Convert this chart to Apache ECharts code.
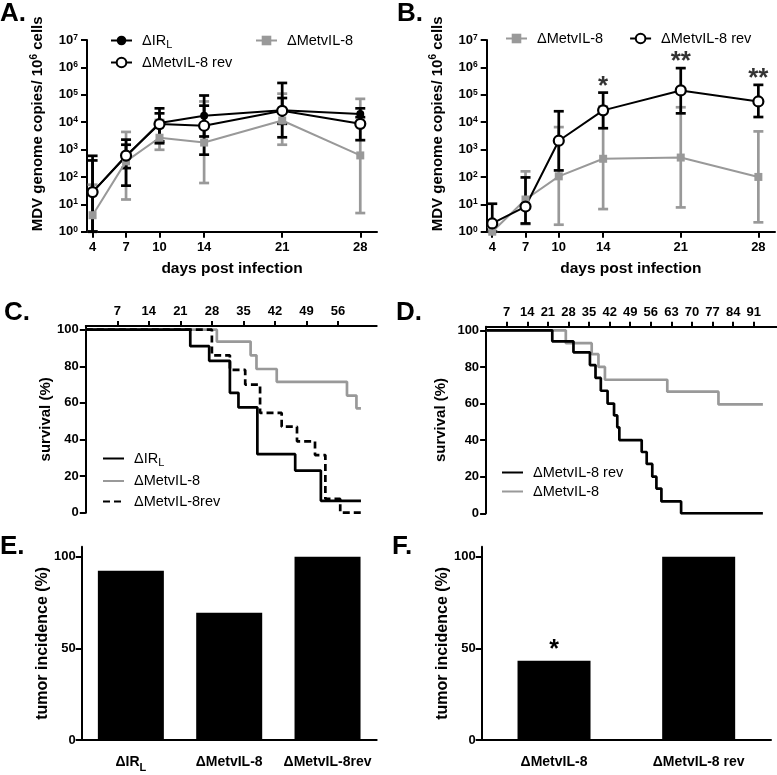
<!DOCTYPE html>
<html><head><meta charset="utf-8">
<script src="https://cdn.jsdelivr.net/npm/echarts@6/dist/echarts.min.js"></script>
<style>html,body{margin:0;padding:0;background:#fff}#c{width:777px;height:775px}</style>
</head><body><div id="c"></div>
<script>
// ---------------- DATA ----------------
const dayTicks = [4, 7, 10, 14, 21, 28];
const logTicks = [1, 10, 100, 1000, 10000, 100000, 1000000, 10000000];
const survTicks = [0, 20, 40, 60, 80, 100];
const cDayTicks = [7, 14, 21, 28, 35, 42, 49, 56];
const dDayTicks = [7, 14, 21, 28, 35, 42, 49, 56, 63, 70, 77, 84, 91];
const pctTicks = [0, 50, 100];

// Panel A (genome copies / 10^6 cells)
const aDays = [4, 7, 10, 14, 21, 28];
const aIrl = [28, 560, 9300, 17000, 27000, 20000];
const aIrlLow = [1, 210, 1700, 3000, 2800, 8000];
const aIrlHigh = [590, 2300, 32000, 94000, 270000, 32000];
const aRev = [28, 600, 8500, 7400, 26000, 8700];
const aRevLow = [1, 48, 2000, 650, 8700, 2200];
const aRevHigh = [400, 1500, 21000, 40000, 76000, 15200];
const aMet = [4, 370, 2700, 1800, 11500, 610];
const aMetLow = [1, 15, 980, 60, 1500, 4.8];
const aMetHigh = [52, 4400, 12000, 57000, 110000, 71000];

// Panel B
const bDays = [4, 7, 10, 14, 21, 28];
const bMet = [1.0, 15, 105, 460, 510, 100];
const bMetLow = [1, 1.9, 1.8, 6.7, 7.7, 2.2];
const bMetHigh = [1.5, 160, 6600, 37000, 35000, 4600];
const bRev = [2.0, 8.3, 2100, 27000, 144000, 57000];
const bRevLow = [1, 2, 173, 6000, 21000, 15400];
const bRevHigh = [10.5, 96, 25000, 120000, 940000, 230000];
const bStars = ['', '', '', '*', '**', '**'];

// Panel C (survival %)
const cIrlDays = [0, 23.2, 27.4, 32.0, 33.9, 38.1, 46.5, 52.2, 61.1];
const cIrlSurv = [100, 91, 83, 65.5, 57.5, 32, 23, 6.5, 6.5];
const cMetDays = [0, 29.1, 36.6, 37.9, 42.4, 58.0, 60.1, 61.1];
const cMetSurv = [100, 93.5, 86, 78.5, 71.5, 64, 57, 57];
const cRevDays = [0, 28.0, 32.0, 35.4, 38.7, 43.5, 46.9, 50.9, 53.2, 56.5, 61.1];
const cRevSurv = [100, 86, 78, 70, 54.5, 47, 39, 31.5, 7.5, 0, 0];

// Panel D
const dRevDays = [0, 22.5, 29.7, 35.3, 37.2, 39.0, 41.3, 43.5, 44.6, 45.3, 52.9, 54.6, 56.5, 57.9, 59.6, 66.3, 94.1];
const dRevSurv = [100, 94, 88, 81, 74, 67, 60, 53.5, 47, 40, 33.5, 27, 20, 13.5, 6.5, 0, 0];
const dMetDays = [0, 27.1, 35.9, 38.2, 40.4, 61.6, 79.0, 94.1];
const dMetSurv = [100, 93, 87, 80, 73, 66.5, 59.5, 59.5];

// Panel E / F (tumor incidence %)
const eCats = ['ΔIRL', 'ΔMetvIL-8', 'ΔMetvIL-8rev'];
const eVals = [92.4, 69.5, 100];
const fCats = ['ΔMetvIL-8', 'ΔMetvIL-8 rev'];
const fVals = [43.3, 100];
const fMarks = ['*', ''];

// ---------------- STYLE ----------------
const FONT = "'Liberation Sans', Arial, Helvetica, sans-serif";
const GRAY = '#999999';
const BLACK = '#000000';
const DASH = [7, 4];

const pairs = (xs, ys) => xs.map((x, i) => [x, ys[i]]);
const triples = (xs, lo, hi) => xs.map((x, i) => [x, lo[i], hi[i]]);

const axLine = { show: true, onZero: false, lineStyle: { color: BLACK, width: 2 } };
const tick = (vals, len) => ({ show: true, length: len || 6, lineStyle: { color: BLACK, width: 2 }, customValues: vals });
const lab = (vals, extra) => Object.assign({ color: BLACK, fontSize: 13, fontWeight: 'bold', fontFamily: FONT, customValues: vals }, extra || {});
const noSplit = { show: false };

const supRich = {
  b: { fontSize: 13, fontWeight: 'bold', fontFamily: FONT, color: BLACK, lineHeight: 14 },
  s: { fontSize: 8.5, fontWeight: 'bold', fontFamily: FONT, color: BLACK, lineHeight: 8, verticalAlign: 'top' }
};
const yNameA = {
  color: BLACK, padding: [0, 0, 0, 24],
  rich: {
    t: { fontSize: 15, fontWeight: 'bold', fontFamily: FONT, color: BLACK, lineHeight: 18 },
    u: { fontSize: 10, fontWeight: 'bold', fontFamily: FONT, color: BLACK, lineHeight: 10, verticalAlign: 'top' }
  }
};
const legRich = {
  n: { fontSize: 14.5, fontFamily: FONT, color: BLACK, lineHeight: 19 },
  s: { fontSize: 11, fontFamily: FONT, color: BLACK, lineHeight: 11, verticalAlign: 'bottom' }
};
const legFmt = name => {
  const t = name.split('|')[1];
  return t === 'ΔIRL' ? '{n|ΔIR}{s|L}' : '{n|' + t + '}';
};
const catRich = {
  n: { fontSize: 14, fontWeight: 'bold', fontFamily: FONT, color: BLACK, lineHeight: 22 },
  s: { fontSize: 11, fontWeight: 'bold', fontFamily: FONT, color: BLACK, lineHeight: 12, verticalAlign: 'bottom' }
};
const catFmt = v => v === 'ΔIRL' ? '{n|ΔIR}{s|L}' : '{n|' + v + '}';

function legend(names, left, top, orient, gap, hideSymbol) {
  const l = {
    data: names, left, top, orient: orient || 'vertical', itemGap: gap || 4,
    itemWidth: 21, itemHeight: 12, selectedMode: false, padding: 0,
    formatter: legFmt,
    textStyle: { fontSize: 14.5, fontFamily: FONT, color: BLACK, padding: [0, 0, 0, 5], rich: legRich }
  };
  if (hideSymbol) l.itemStyle = { opacity: 0, borderWidth: 0 };
  return l;
}

function errBar(name, xi, yi, xs, lo, hi, color) {
  return {
    type: 'custom', name, xAxisIndex: xi, yAxisIndex: yi, silent: true,
    data: triples(xs, lo, hi),
    encode: { x: 0, y: [1, 2] },
    renderItem: (params, api) => {
      const x = api.value(0);
      const top = api.coord([x, api.value(2)]);
      const bot = api.coord([x, api.value(1)]);
      const w = 5;
      const st = { stroke: color, lineWidth: 2.7 };
      return { type: 'group', children: [
        { type: 'line', shape: { x1: top[0], y1: top[1], x2: bot[0], y2: bot[1] }, style: st },
        { type: 'line', shape: { x1: top[0] - w, y1: top[1], x2: top[0] + w, y2: top[1] }, style: st },
        { type: 'line', shape: { x1: bot[0] - w, y1: bot[1], x2: bot[0] + w, y2: bot[1] }, style: st }
      ]};
    }
  };
}

function kmLine(name, xi, xs, ys, color, dashed) {
  return {
    type: 'line', name, xAxisIndex: xi, yAxisIndex: xi, step: 'end', symbol: 'none',
    data: pairs(xs, ys), color,
    itemStyle: { color, opacity: 0 },
    lineStyle: { color, width: 2.7, type: dashed ? DASH : 'solid' }
  };
}

const logY = (grid, nameGap) => ({
  type: 'log', logBase: 10, gridIndex: grid, min: 1, max: 10000000,
  axisLine: axLine, axisTick: tick(logTicks), splitLine: noSplit,
  axisLabel: lab(logTicks, { margin: 9, formatter: v => '{b|10}{s|' + Math.round(Math.log10(v)) + '}', rich: supRich }),
  name: '{t|MDV genome copies/ 10}{u|6}{t| cells}', nameLocation: 'middle', nameGap: nameGap, nameTextStyle: yNameA
});
const dayX = grid => ({
  type: 'value', gridIndex: grid, min: 3.5, max: 29.5,
  axisLine: axLine, axisTick: tick(dayTicks), splitLine: noSplit,
  axisLabel: lab(dayTicks, { margin: 9 }),
  name: 'days post infection', nameLocation: 'middle', nameGap: 29,
  nameTextStyle: { fontSize: 15.5, fontWeight: 'bold', fontFamily: FONT, color: BLACK }
});
const survX = (grid, max, ticks) => ({
  type: 'value', gridIndex: grid, position: 'top', min: 0, max,
  axisLine: axLine, axisTick: tick(ticks, 5), splitLine: noSplit,
  axisLabel: lab(ticks, { margin: 8 })
});
const survY = (grid, gap) => ({
  type: 'value', gridIndex: grid, min: 0, max: 102,
  axisLine: axLine, axisTick: tick(survTicks), splitLine: noSplit,
  axisLabel: lab(survTicks, { margin: 7 }),
  name: 'survival (%)', nameLocation: 'middle', nameGap: gap,
  nameTextStyle: { fontSize: 15, fontWeight: 'bold', fontFamily: FONT, color: BLACK }
});
const catX = (grid, cats) => ({
  type: 'category', gridIndex: grid, data: cats,
  axisLine: axLine, axisTick: { show: false }, splitLine: noSplit,
  axisLabel: { margin: 11, interval: 0, formatter: catFmt, rich: catRich, color: BLACK }
});
const pctY = (grid, gap) => ({
  type: 'value', gridIndex: grid, min: 0, max: 105.5,
  axisLine: axLine, axisTick: tick(pctTicks), splitLine: noSplit,
  axisLabel: lab(pctTicks, { margin: 6 }),
  name: 'tumor incidence (%)', nameLocation: 'middle', nameGap: gap,
  nameTextStyle: { fontSize: 16, fontWeight: 'bold', fontFamily: FONT, color: BLACK }
});

const letter = (t, left, top) => ({
  text: t, left, top, padding: 0,
  textStyle: { fontSize: 26, fontWeight: 'bold', fontFamily: FONT, color: BLACK }
});

const option = {
  animation: false,
  backgroundColor: '#fff',
  textStyle: { fontFamily: FONT },
  title: [letter('A.', 0, 1), letter('B.', 397, 1), letter('C.', 4, 300), letter('D.', 396, 300), letter('E.', 0, 534), letter('F.', 392, 534)],
  legend: [
    legend(['A|ΔIRL', 'A|ΔMetvIL-8 rev'], 110, 33, 'vertical', 5),
    legend(['A|ΔMetvIL-8'], 255, 33),
    legend(['B|ΔMetvIL-8', 'B|ΔMetvIL-8 rev'], 505, 31, 'horizontal', 26),
    legend(['C|ΔIRL', 'C|ΔMetvIL-8', { name: 'C|ΔMetvIL-8rev', lineStyle: { type: DASH } }], 102, 451, 'vertical', 5.5, true),
    legend(['D|ΔMetvIL-8 rev', 'D|ΔMetvIL-8'], 501, 465, 'vertical', 4, true)
  ],
  grid: [
    { left: 87, top: 40, width: 290, height: 191.7 },
    { left: 486.7, top: 40, width: 288.3, height: 191.7 },
    { left: 85.8, top: 326, width: 290.9, height: 186.7 },
    { left: 486.1, top: 326.7, width: 290.6, height: 186.6 },
    { left: 81.7, top: 546.7, width: 295, height: 193.3 },
    { left: 481.7, top: 546.7, width: 289.3, height: 193.3 }
  ],
  xAxis: [dayX(0), dayX(1), survX(2, 64.6, cDayTicks), survX(3, 98.8, dDayTicks), catX(4, eCats), catX(5, fCats)],
  yAxis: [logY(0, 40), logY(1, 40), survY(2, 29), survY(3, 38), pctY(4, 29), pctY(5, 30)],
  series: [
    // Panel A
    { type: 'line', name: 'A|ΔMetvIL-8', xAxisIndex: 0, yAxisIndex: 0, data: pairs(aDays, aMet),
      symbol: 'rect', symbolSize: 8, color: GRAY, itemStyle: { color: GRAY }, lineStyle: { color: GRAY, width: 2 } },
    errBar('A-met-err', 0, 0, aDays, aMetLow, aMetHigh, GRAY),
    errBar('A-irl-err', 0, 0, aDays, aIrlLow, aIrlHigh, BLACK),
    errBar('A-rev-err', 0, 0, aDays, aRevLow, aRevHigh, BLACK),
    { type: 'line', name: 'A|ΔIRL', xAxisIndex: 0, yAxisIndex: 0, data: pairs(aDays, aIrl),
      symbol: 'circle', symbolSize: 8, color: BLACK, itemStyle: { color: BLACK }, lineStyle: { color: BLACK, width: 2 } },
    { type: 'line', name: 'A|ΔMetvIL-8 rev', xAxisIndex: 0, yAxisIndex: 0, data: pairs(aDays, aRev),
      symbol: 'circle', symbolSize: 10, color: BLACK,
      itemStyle: { color: '#fff', borderColor: BLACK, borderWidth: 2.2 }, lineStyle: { color: BLACK, width: 2 } },
    // Panel B
    { type: 'line', name: 'B|ΔMetvIL-8', xAxisIndex: 1, yAxisIndex: 1, data: pairs(bDays, bMet),
      symbol: 'rect', symbolSize: 8, color: GRAY, itemStyle: { color: GRAY }, lineStyle: { color: GRAY, width: 2 } },
    errBar('B-met-err', 1, 1, bDays, bMetLow, bMetHigh, GRAY),
    errBar('B-rev-err', 1, 1, bDays, bRevLow, bRevHigh, BLACK),
    { type: 'line', name: 'B|ΔMetvIL-8 rev', xAxisIndex: 1, yAxisIndex: 1, data: pairs(bDays, bRev),
      symbol: 'circle', symbolSize: 10, color: BLACK,
      itemStyle: { color: '#fff', borderColor: BLACK, borderWidth: 2.2 }, lineStyle: { color: BLACK, width: 2 } },
    { type: 'scatter', name: 'B-stars', xAxisIndex: 1, yAxisIndex: 1, symbolSize: 0, silent: true,
      data: bDays.map((d, i) => [d, bRevHigh[i], bStars[i]]).filter(p => p[2] !== ''),
      label: { show: true, position: 'top', distance: 0, offset: [0, 7], formatter: p => p.value[2],
        fontSize: 26, fontWeight: 'bold', fontFamily: FONT, color: BLACK } },
    // Panel C
    kmLine('C|ΔMetvIL-8', 2, cMetDays, cMetSurv, GRAY, false),
    kmLine('C|ΔMetvIL-8rev', 2, cRevDays, cRevSurv, BLACK, true),
    kmLine('C|ΔIRL', 2, cIrlDays, cIrlSurv, BLACK, false),
    // Panel D
    kmLine('D|ΔMetvIL-8', 3, dMetDays, dMetSurv, GRAY, false),
    kmLine('D|ΔMetvIL-8 rev', 3, dRevDays, dRevSurv, BLACK, false),
    // Panel E
    { type: 'bar', name: 'E-bars', xAxisIndex: 4, yAxisIndex: 4, data: eVals, barWidth: 66, itemStyle: { color: BLACK } },
    // Panel F
    { type: 'bar', name: 'F-bars', xAxisIndex: 5, yAxisIndex: 5, barWidth: 73, itemStyle: { color: BLACK },
      data: fVals,
      label: { show: true, position: 'top', distance: 5, offset: [0, 7], formatter: p => fMarks[p.dataIndex],
        fontSize: 25, fontWeight: 'bold', fontFamily: FONT, color: BLACK } }
  ]
};

const chart = echarts.init(document.getElementById('c'), null, { renderer: 'canvas' });
chart.setOption(option);
</script>
</body></html>
